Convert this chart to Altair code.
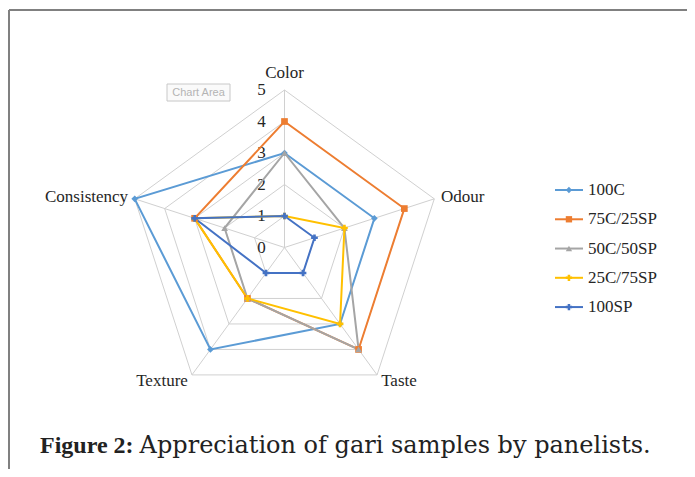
import altair as alt
import pandas as pd

# ---------------- data ----------------
categories = ["Color", "Odour", "Taste", "Texture", "Consistency"]
series = ["100C", "75C/25SP", "50C/50SP", "25C/75SP", "100SP"]
v_100C = [3, 3, 3, 4, 5]
v_75C25SP = [4, 4, 4, 2, 3]
v_50C50SP = [3, 2, 4, 2, 2]
v_25C75SP = [1, 2, 3, 2, 3]
v_100SP = [1, 1, 1, 1, 3]
levels = [0, 1, 2, 3, 4, 5]
caption_bold = "Figure 2:"
caption_text = "Appreciation of gari samples by panelists."

values = [v_100C, v_75C25SP, v_50C50SP, v_25C75SP, v_100SP]
colors = ["#5B9BD5", "#ED7D31", "#A5A5A5", "#FFC000", "#4472C4"]
shapes = ["diamond", "square", "triangle-up", "cross", "cross"]

rows = []
for si, (s, vals) in enumerate(zip(series, values)):
    for ci, (c, v) in enumerate(zip(categories, vals)):
        rows.append({"series": s, "s_idx": si, "category": c, "c_idx": ci, "value": v})
df = pd.DataFrame(rows)

grid = pd.DataFrame([{"level": lv, "category": c, "c_idx": ci}
                     for lv in levels[1:] for ci, c in enumerate(categories)])
cats = pd.DataFrame({"category": categories, "c_idx": list(range(len(categories)))})
lev = pd.DataFrame({"level": levels})
leg = pd.DataFrame({"series": series, "s_idx": list(range(len(series)))})
cap = pd.DataFrame({"bold": [caption_bold], "text": [caption_text]})

# ---------------- layout ----------------
W, H = 679, 461
UNIT = 31.5            # pixels per score unit
CX, CY = 276.5, 239.5  # radar centre in chart pixels
XD = [-CX / UNIT, (W - CX) / UNIT]
YD = [-(H - CY) / UNIT, CY / UNIT]

xs = alt.Scale(domain=XD, nice=False, zero=False)
ys = alt.Scale(domain=YD, nice=False, zero=False)
cscale = alt.Scale(domain=series, range=colors)
sscale = alt.Scale(domain=series, range=shapes)
FONT = "Liberation Serif"
TXT = "#262626"
FS = 17

ANG = "PI/2 - 2*PI*datum.c_idx/5"

def X(f):
    return alt.X(f, type="quantitative", scale=xs, axis=None)

def Y(f):
    return alt.Y(f, type="quantitative", scale=ys, axis=None)

# grid rings
rings = alt.Chart(grid).transform_calculate(
    gx=f"datum.level*cos({ANG})", gy=f"datum.level*sin({ANG})"
).mark_line(interpolate="linear-closed", color="#D0D0D0", strokeWidth=1).encode(
    x=X("gx"), y=Y("gy"), detail="level:N", order="c_idx:Q"
)

# spokes
spokes = alt.Chart(cats).transform_calculate(
    sx=f"5*cos({ANG})", sy=f"5*sin({ANG})", zx="0", zy="0"
).mark_rule(color="#D0D0D0", strokeWidth=1).encode(
    x=X("zx"), y=Y("zy"), x2="sx:Q", y2="sy:Q"
)

# tick labels 0-5
ticks = alt.Chart(lev).transform_calculate(tx="0").mark_text(
    dx=-23, font=FONT, fontSize=FS, color=TXT, align="center", baseline="middle"
).encode(x=X("tx"), y=Y("level"), text="level:Q")

# category labels
labbase = alt.Chart(cats).transform_calculate(
    lx=f"5.22*cos({ANG})", ly=f"5.22*sin({ANG})"
)
lab_top = labbase.transform_filter("datum.c_idx == 0").transform_calculate(
    ly2="5.54"
).mark_text(font=FONT, fontSize=FS, color=TXT, align="center", baseline="middle").encode(
    x=X("lx"), y=Y("ly2"), text="category:N")
lab_right = labbase.transform_filter("datum.c_idx == 1 || datum.c_idx == 2").mark_text(
    font=FONT, fontSize=FS, color=TXT, align="left", baseline="middle").encode(
    x=X("lx"), y=Y("ly"), text="category:N")
lab_left = labbase.transform_filter("datum.c_idx == 3 || datum.c_idx == 4").mark_text(
    font=FONT, fontSize=FS, color=TXT, align="right", baseline="middle").encode(
    x=X("lx"), y=Y("ly"), text="category:N")

# data series
base = alt.Chart(df).transform_calculate(
    px=f"datum.value*cos({ANG})", py=f"datum.value*sin({ANG})"
)
lines = base.mark_line(interpolate="linear-closed", strokeWidth=2).encode(
    x=X("px"), y=Y("py"),
    color=alt.Color("series:N", scale=cscale, legend=None),
    detail="series:N", order="c_idx:Q"
)
points = base.mark_point(filled=True, size=45, opacity=1).encode(
    x=X("px"), y=Y("py"),
    color=alt.Color("series:N", scale=cscale, legend=None),
    shape=alt.Shape("series:N", scale=sscale, legend=None)
)

# manual legend
lbase = alt.Chart(leg).transform_calculate(
    lx1="8.587", lx2="9.476", lxm="9.03", ltx="9.635", ly="1.825 - 0.929*datum.s_idx"
)
leg_lines = lbase.mark_rule(strokeWidth=2).encode(
    x=X("lx1"), x2="lx2:Q", y=Y("ly"),
    color=alt.Color("series:N", scale=cscale, legend=None))
leg_pts = lbase.mark_point(filled=True, size=40, opacity=1).encode(
    x=X("lxm"), y=Y("ly"),
    color=alt.Color("series:N", scale=cscale, legend=None),
    shape=alt.Shape("series:N", scale=sscale, legend=None))
leg_txt = lbase.mark_text(font=FONT, fontSize=FS, color=TXT, align="left",
                          baseline="middle").encode(x=X("ltx"), y=Y("ly"), text="series:N")

# "Chart Area" tooltip box (screenshot artefact)
tip = pd.DataFrame({"t": ["Chart Area"]})
tip_box = alt.Chart(tip).transform_calculate(
    x1="-3.73", x2="-1.73", y1="5.19", y2="4.65"
).mark_rect(fill="#FAFAFA", stroke="#C8C8C8", strokeWidth=1).encode(
    x=X("x1"), x2="x2:Q", y=Y("y1"), y2="y2:Q")
tip_txt = alt.Chart(tip).transform_calculate(tx="-2.73", ty="4.92").mark_text(
    font="Liberation Sans", fontSize=11, color="#B4B4B4", align="center", baseline="middle"
).encode(x=X("tx"), y=Y("ty"), text="t:N")

# caption
cap_b = alt.Chart(cap).transform_calculate(cx="-7.762", cy="-6.30").mark_text(
    font="Liberation Serif", fontSize=24, fontWeight="bold", color="#222222",
    align="left", baseline="middle").encode(x=X("cx"), y=Y("cy"), text="bold:N")
cap_t = alt.Chart(cap).transform_calculate(cx="-4.60", cy="-6.30").mark_text(
    font="DejaVu Serif", fontSize=24, color="#222222",
    align="left", baseline="middle").encode(x=X("cx"), y=Y("cy"), text="text:N")

# frame (top and left border)
frame_top = alt.Chart(tip).mark_rule(color="#808080", strokeWidth=2).encode(
    x=alt.value(1), x2=alt.value(W), y=alt.value(2))
frame_left = alt.Chart(tip).mark_rule(color="#808080", strokeWidth=2).encode(
    x=alt.value(1), y=alt.value(2), y2=alt.value(H))

chart = alt.layer(
    frame_top, frame_left, rings, spokes, ticks, lab_top, lab_right, lab_left,
    lines, points, leg_lines, leg_pts, leg_txt, tip_box, tip_txt, cap_b, cap_t
).properties(
    width=W, height=H, padding=0,
    autosize=alt.AutoSizeParams(type="none")
).configure_view(stroke=None)

chart.save("out.html", embed_options={"renderer": "svg", "actions": False})
